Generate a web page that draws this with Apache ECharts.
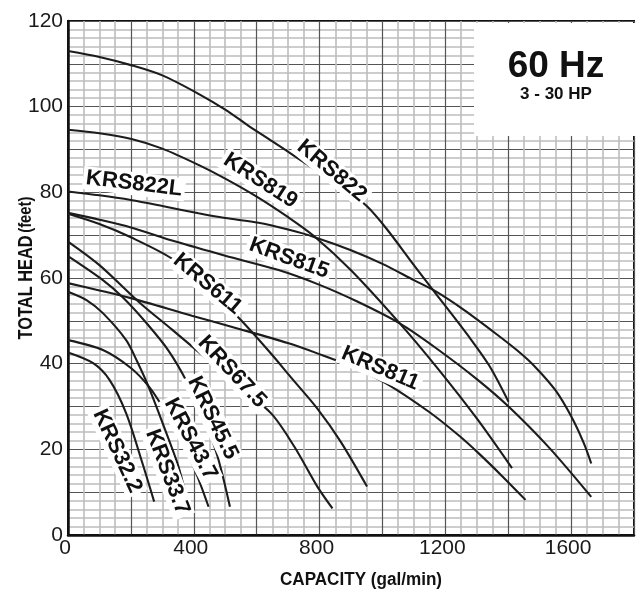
<!DOCTYPE html>
<html><head><meta charset="utf-8">
<script src="https://cdn.jsdelivr.net/npm/echarts@6/dist/echarts.min.js"></script>
<style>html,body{margin:0;padding:0;background:#fff}#c{width:637px;height:589px}</style>
</head><body><div id="c"></div>
<script>
// ---- data ----
const xTickLabels = [0, 400, 800, 1200, 1600];
const yTickLabels = [0, 20, 40, 60, 80, 100, 120];

const krs822Flow  = [0, 100, 200, 300, 415, 500, 573, 650, 730, 800, 880, 950, 1013, 1100, 1150, 1200, 1275, 1340, 1401];
const krs822Head  = [113, 111.6, 109.7, 107.3, 103, 99.3, 95.6, 91.9, 88, 84.6, 80.7, 76.8, 71.5, 63, 58.2, 53.5, 46.3, 39.5, 31.1];

const krs819Flow  = [0, 100, 205, 300, 415, 500, 600, 700, 782, 900, 1055, 1171, 1300, 1412];
const krs819Head  = [94.6, 93.8, 92.4, 90.2, 86.4, 83.2, 79, 74.2, 69.8, 61.8, 49.4, 39.3, 27.2, 15.6];

const krs822LFlow = [0, 100, 200, 300, 415, 500, 606, 700, 782, 900, 1000, 1100, 1171, 1260, 1359, 1430, 1485, 1550, 1601, 1640, 1664];
const krs822LHead = [80.2, 79.3, 78.2, 76.8, 75.1, 74, 72.9, 71.3, 69.6, 66.5, 63.3, 59.5, 56.8, 52.5, 47.1, 43, 39.3, 33.8, 27.6, 21.5, 16.7];

const krs815Flow  = [0, 100, 200, 342, 500, 667, 800, 920, 1055, 1171, 1300, 1401, 1530, 1664];
const krs815Head  = [75.2, 73.6, 71.8, 68.5, 65.2, 61.9, 58.4, 54.5, 49.4, 43.6, 36.4, 30, 20.4, 8.9];

const krs611Flow  = [0, 100, 200, 331, 450, 552, 646, 709, 793, 867, 951];
const krs611Head  = [75, 72.6, 69.5, 64.5, 57.5, 50, 42.3, 36.8, 29.5, 21.8, 11.3];

const krs811Flow  = [0, 100, 200, 394, 550, 699, 793, 900, 1014, 1151, 1245, 1307, 1380, 1455];
const krs811Head  = [58.8, 57.1, 55.3, 51.2, 48, 44.8, 42.4, 39.4, 35.3, 28.6, 23.1, 19, 13.8, 8.2];

const krs675Flow  = [0, 100, 227, 330, 430, 530, 646, 720, 793, 841];
const krs675Head  = [68.5, 63, 54.3, 48, 41.8, 35.5, 28.4, 20.6, 11.3, 6.2];

const krs455Flow  = [0, 111, 174, 248, 320, 380, 430, 475, 515];
const krs455Head  = [65.1, 59.5, 55.5, 49.6, 43, 35.5, 27.5, 18.5, 6.6];

const krs437Flow  = [0, 111, 200, 258, 300, 342, 400, 447];
const krs437Head  = [45.5, 43.2, 39, 34.6, 30, 24.5, 15.8, 6.6];

const krs337Flow  = [0, 60, 111, 185, 220, 258, 321, 352, 384];
const krs337Head  = [56.8, 54.8, 51.8, 45.5, 40.5, 34.3, 22.2, 15.8, 6.6];

const krs322Flow  = [0, 80, 132, 185, 237, 274];
const krs322Head  = [42.6, 40.1, 36.2, 28.4, 16.7, 7.8];

const curveNames = ['KRS822', 'KRS819', 'KRS822L', 'KRS815', 'KRS611', 'KRS811', 'KRS67.5', 'KRS45.5', 'KRS43.7', 'KRS33.7', 'KRS32.2'];
const curveFlows = [krs822Flow, krs819Flow, krs822LFlow, krs815Flow, krs611Flow, krs811Flow, krs675Flow, krs455Flow, krs437Flow, krs337Flow, krs322Flow];
const curveHeads = [krs822Head, krs819Head, krs822LHead, krs815Head, krs611Head, krs811Head, krs675Head, krs455Head, krs437Head, krs337Head, krs322Head];

// ---- label placement (data-space anchor + angle, clockwise degrees) ----
const labelPlacement = {
  'KRS822':  {at: [839, 85.0], angle: 40},
  'KRS819':  {at: [612, 82.7], angle: 33},
  'KRS822L': {at: [210, 82.0], angle: 7},
  'KRS815':  {at: [703, 64.6], angle: 20},
  'KRS611':  {at: [444, 58.6], angle: 40},
  'KRS811':  {at: [993, 38.9], angle: 23},
  'KRS67.5': {at: [522, 38.1], angle: 47},
  'KRS45.5': {at: [460, 27.3], angle: 64},
  'KRS43.7': {at: [390, 22.4], angle: 62},
  'KRS33.7': {at: [316, 14.7], angle: 69},
  'KRS32.2': {at: [157, 19.6], angle: 65}
};

const FONT = '"Liberation Sans", Arial, Helvetica, sans-serif';
const chart = echarts.init(document.getElementById('c'), null, {renderer: 'canvas'});

const series = curveNames.map((name, i) => ({
  name: name,
  type: 'line',
  data: curveFlows[i].map((f, j) => [f, curveHeads[i][j]]),
  showSymbol: false,
  smooth: 0.3,
  lineStyle: {color: '#1c1c1c', width: 2.1},
  z: 3,
  silent: true
}));

chart.setOption({
  animation: false,
  backgroundColor: '#fff',
  grid: {left: 68, top: 21, right: -3, bottom: 54, show: true, borderColor: '#111', borderWidth: 2},
  xAxis: {
    type: 'value', min: 0, max: 1800, interval: 200,
    axisLine: {show: true, lineStyle: {color: '#111', width: 2.5}},
    axisTick: {show: false},
    axisLabel: {
      margin: 3, color: '#1a1a1a', fontSize: 21, fontFamily: FONT, padding: [0, 6, 0, 0],
      formatter: v => xTickLabels.includes(v) ? String(v) : ''
    },
    splitLine: {show: true, lineStyle: {color: '#555', width: 1.2}},
    minorTick: {show: false, splitNumber: 4},
    minorSplitLine: {show: true, lineStyle: {color: '#bdbdbd', width: 1.6}}
  },
  yAxis: {
    type: 'value', min: 0, max: 120, interval: 10,
    axisLine: {show: true, lineStyle: {color: '#111', width: 2.5}},
    axisTick: {show: false},
    axisLabel: {
      margin: 5, color: '#1a1a1a', fontSize: 21, fontFamily: FONT,
      formatter: v => yTickLabels.includes(v) ? String(v) : ''
    },
    splitLine: {show: true, lineStyle: {color: '#555', width: 1.2}},
    minorTick: {show: false, splitNumber: 5},
    minorSplitLine: {show: true, lineStyle: {color: '#bdbdbd', width: 1.6}}
  },
  series: series
});

const graphics = [];
// white box behind the frequency note
graphics.push({type: 'rect', shape: {x: 474, y: 23, width: 170, height: 113}, style: {fill: '#fff'}, z: 1, silent: true});
graphics.push({type: 'text', x: 556, y: 67, z: 20, style: {text: '60 Hz', font: 'bold 37px ' + FONT, fill: '#111', align: 'center', verticalAlign: 'middle'}});
graphics.push({type: 'text', x: 556, y: 94.5, z: 20, style: {text: '3 - 30 HP', font: 'bold 17px ' + FONT, fill: '#111', align: 'center', verticalAlign: 'middle'}});

// curve labels
curveNames.forEach(name => {
  const p = labelPlacement[name];
  const px = chart.convertToPixel({gridIndex: 0}, p.at);
  graphics.push({
    type: 'text', x: px[0], y: px[1], rotation: -p.angle * Math.PI / 180, z: 30,
    style: {text: name, font: 'bold 22px ' + FONT, fill: '#111', align: 'center', verticalAlign: 'middle',
            backgroundColor: '#fff', padding: [1, 3, 0, 3]}
  });
});

// axis titles
graphics.push({
  type: 'text', x: 26, y: 268, rotation: Math.PI / 2, scaleX: 0.78, z: 20,
  style: {text: '{a|TOTAL HEAD} {b|(feet)}', fill: '#111', align: 'center', verticalAlign: 'middle',
          rich: {a: {font: 'bold 21px ' + FONT, fill: '#111'}, b: {font: 'bold 19px ' + FONT, fill: '#111'}}}
});
graphics.push({
  type: 'text', x: 361, y: 580, scaleX: 0.95, z: 20,
  style: {text: 'CAPACITY (gal/min)', font: 'bold 18px ' + FONT, fill: '#111', align: 'center', verticalAlign: 'middle'}
});

chart.setOption({graphic: {elements: graphics}});
</script>
</body></html>
